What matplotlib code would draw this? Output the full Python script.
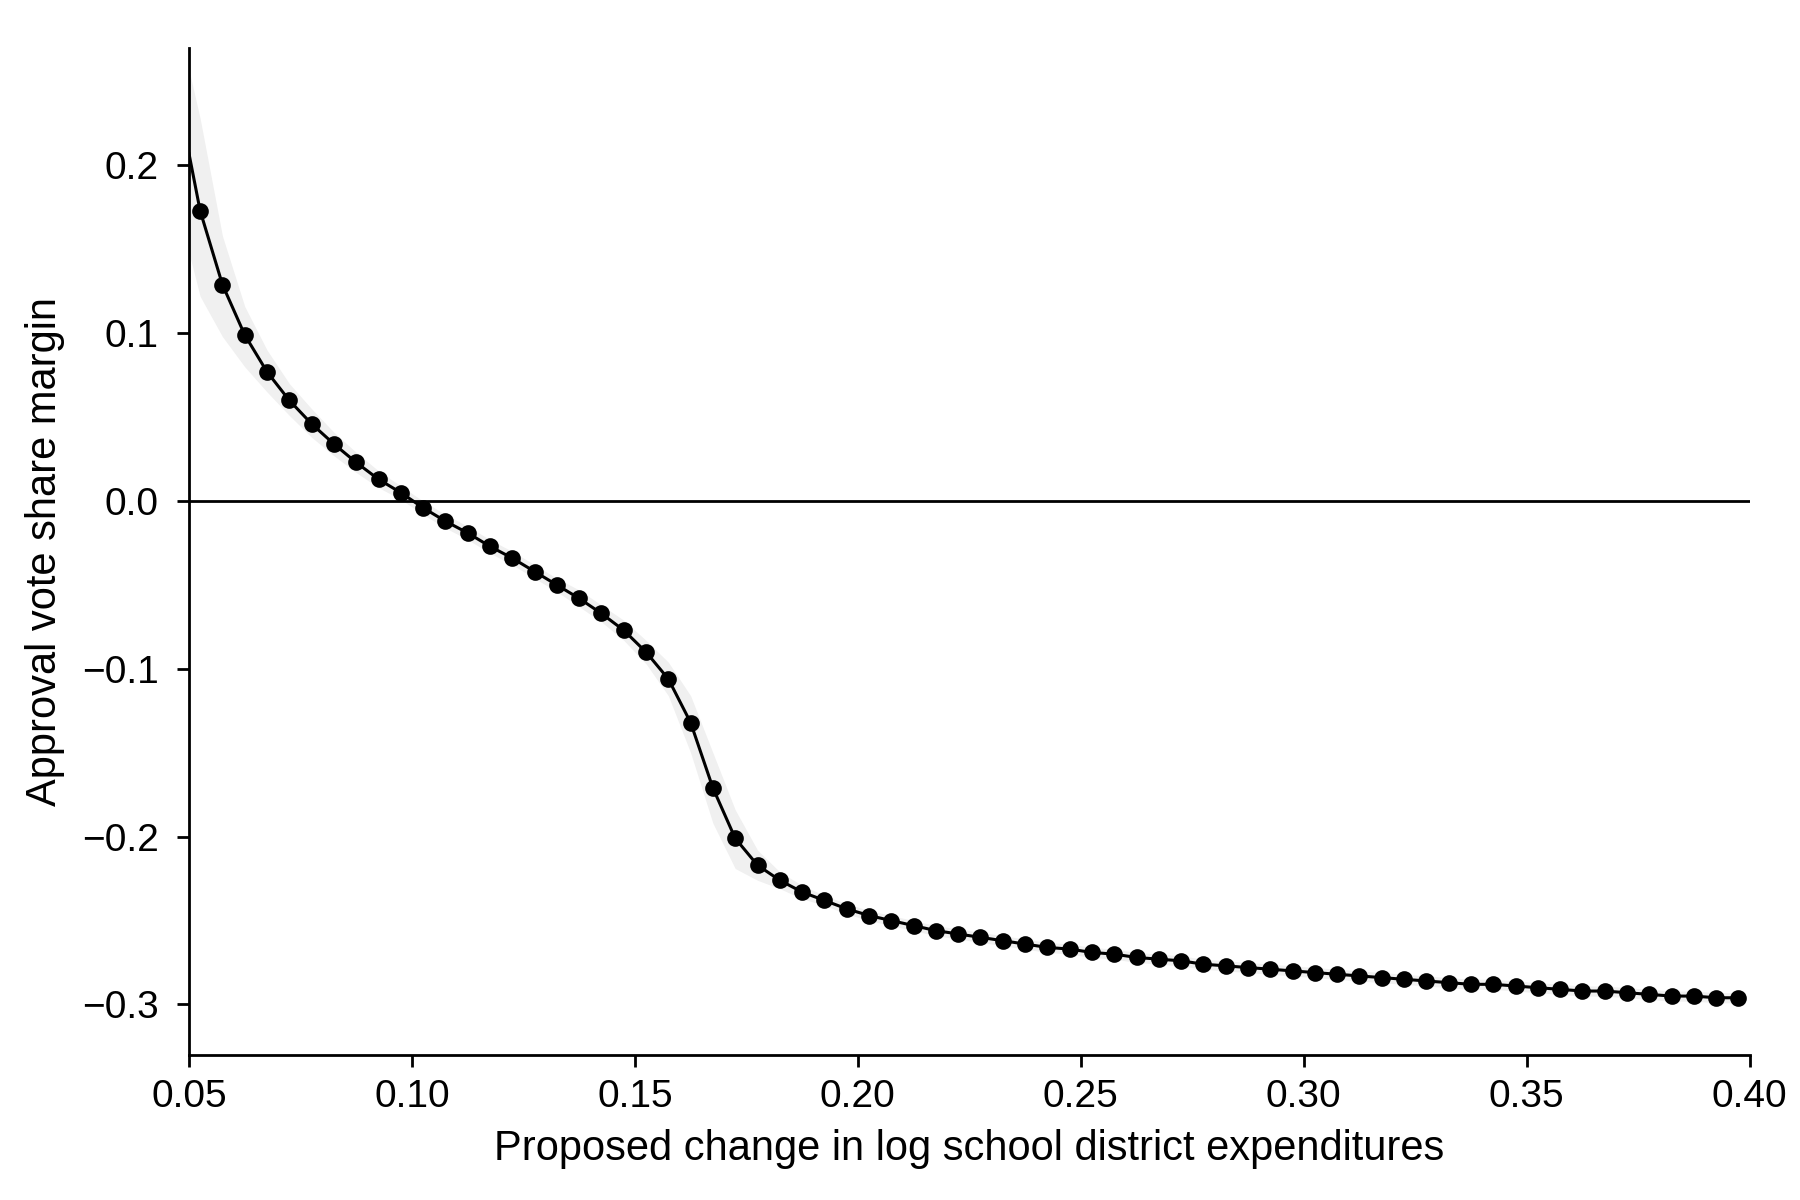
import matplotlib
matplotlib.use("Agg")
import matplotlib.pyplot as plt
import numpy as np

plt.rcParams['font.family'] = ['Liberation Sans', 'DejaVu Sans']

# Line (includes starting point at left axis edge, no marker there)
x_line = [0.05, 0.0525, 0.0575, 0.0625, 0.0675, 0.0725, 0.0775, 0.0825, 0.0875, 0.0925, 0.0975,
          0.1025, 0.1075, 0.1125, 0.1175, 0.1225, 0.1275, 0.1325, 0.1375, 0.1425, 0.1475,
          0.1525, 0.1575, 0.1625, 0.1675, 0.1725, 0.1775, 0.1825, 0.1875, 0.1925, 0.1975,
          0.2025, 0.2075, 0.2125, 0.2175, 0.2225, 0.2275, 0.2325, 0.2375, 0.2425, 0.2475,
          0.2525, 0.2575, 0.2625, 0.2675, 0.2725, 0.2775, 0.2825, 0.2875, 0.2925, 0.2975,
          0.3025, 0.3075, 0.3125, 0.3175, 0.3225, 0.3275, 0.3325, 0.3375, 0.3425, 0.3475,
          0.3525, 0.3575, 0.3625, 0.3675, 0.3725, 0.3775, 0.3825, 0.3875, 0.3925, 0.3975]
y_line = [0.207, 0.173, 0.129, 0.099, 0.077, 0.060, 0.046, 0.034, 0.023, 0.013, 0.005,
          -0.004, -0.012, -0.019, -0.027, -0.034, -0.042, -0.050, -0.058, -0.067, -0.077,
          -0.090, -0.106, -0.132, -0.171, -0.201, -0.217, -0.226, -0.233, -0.238, -0.243,
          -0.247, -0.250, -0.253, -0.256, -0.258, -0.260, -0.262, -0.264, -0.266, -0.267,
          -0.269, -0.270, -0.272, -0.273, -0.274, -0.276, -0.277, -0.278, -0.279, -0.280,
          -0.281, -0.282, -0.283, -0.284, -0.285, -0.286, -0.287, -0.288, -0.288, -0.289,
          -0.290, -0.291, -0.292, -0.292, -0.293, -0.294, -0.295, -0.295, -0.296, -0.296]
ci_upper = [0.257, 0.228, 0.158, 0.116, 0.090, 0.070, 0.055, 0.041, 0.029, 0.018, 0.009,
            0.000, -0.008, -0.015, -0.023, -0.030, -0.038, -0.046, -0.053, -0.062, -0.071,
            -0.083, -0.096, -0.116, -0.150, -0.184, -0.208, -0.221, -0.229, -0.235, -0.240,
            -0.244, -0.247, -0.250, -0.253, -0.255, -0.257, -0.259, -0.261, -0.263, -0.264,
            -0.266, -0.267, -0.269, -0.270, -0.271, -0.273, -0.274, -0.275, -0.276, -0.277,
            -0.278, -0.279, -0.280, -0.281, -0.282, -0.283, -0.284, -0.285, -0.285, -0.286,
            -0.287, -0.288, -0.289, -0.289, -0.290, -0.291, -0.292, -0.292, -0.293, -0.293]
ci_lower = [0.148, 0.122, 0.098, 0.080, 0.065, 0.051, 0.038, 0.027, 0.017, 0.008, 0.001,
            -0.008, -0.016, -0.023, -0.031, -0.038, -0.046, -0.054, -0.063, -0.072, -0.083,
            -0.097, -0.116, -0.150, -0.192, -0.219, -0.226, -0.231, -0.237, -0.241, -0.246,
            -0.250, -0.253, -0.256, -0.259, -0.261, -0.263, -0.265, -0.267, -0.269, -0.270,
            -0.272, -0.273, -0.275, -0.276, -0.277, -0.279, -0.280, -0.281, -0.282, -0.283,
            -0.284, -0.285, -0.286, -0.287, -0.288, -0.289, -0.290, -0.291, -0.291, -0.292,
            -0.293, -0.294, -0.295, -0.295, -0.296, -0.297, -0.298, -0.298, -0.299, -0.299]

x_ticks = [0.05, 0.10, 0.15, 0.20, 0.25, 0.30, 0.35, 0.40]
x_ticklabels = ["0.05", "0.10", "0.15", "0.20", "0.25", "0.30", "0.35", "0.40"]
y_ticks = [-0.3, -0.2, -0.1, 0.0, 0.1, 0.2]
y_ticklabels = ["\u22120.3", "\u22120.2", "\u22120.1", "0.0", "0.1", "0.2"]

fig = plt.figure(figsize=(9, 6), dpi=200)
ax = fig.add_axes([0.105, 0.121, 0.867, 0.839])

ax.fill_between(x_line, ci_lower, ci_upper, color="#f0f0f0", linewidth=0, zorder=1)
ax.axhline(0, color="black", linewidth=1.0, zorder=2)
ax.plot(x_line, y_line, color="black", linewidth=1.1, zorder=3)
ax.plot(x_line[1:], y_line[1:], linestyle="none", marker="o", markersize=5,
        color="black", zorder=4)

ax.set_xlim(0.05, 0.40)
ax.set_ylim(-0.33, 0.27)
ax.set_xticks(x_ticks)
ax.set_xticklabels(x_ticklabels)
ax.set_yticks(y_ticks)
ax.set_yticklabels(y_ticklabels)
ax.tick_params(labelsize=14, length=4.3, width=1.0, direction="out")
ax.tick_params(axis="x", pad=4.5)
ax.tick_params(axis="y", pad=6.5)
for s in ["top", "right"]:
    ax.spines[s].set_visible(False)
for s in ["left", "bottom"]:
    ax.spines[s].set_linewidth(1.0)

ax.set_xlabel("Proposed change in log school district expenditures", fontsize=15, labelpad=5)
ax.set_ylabel("Approval vote share margin", fontsize=15, labelpad=6)

fig.savefig("out.png", dpi=200)
